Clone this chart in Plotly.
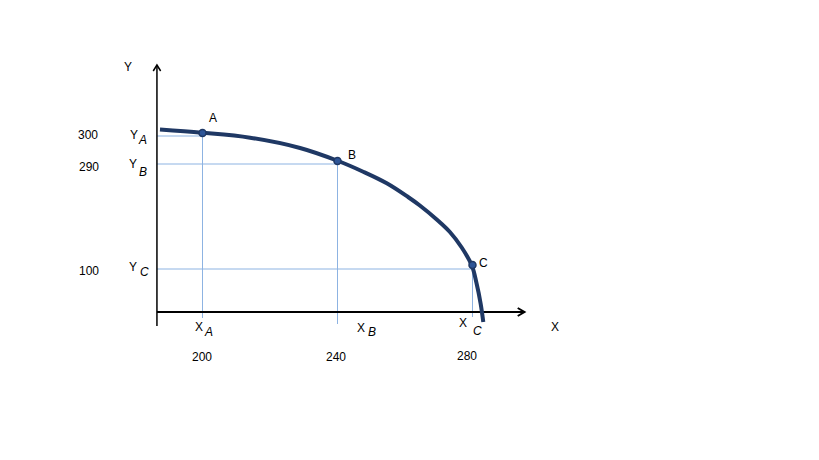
import plotly.graph_objects as go

# Production possibilities frontier (schematic; vertical axis not to scale)
point_names = ["A", "B", "C"]
x_values = [200, 240, 280]            # X quantities
y_values = [300, 290, 100]            # Y quantities
y_tick_labels = ["300", "290", "100"]
x_tick_labels = ["200", "240", "280"]
# drawn heights of the points and of their guide lines (schematic units)
point_heights = [179, 151, 47]
guide_heights = [176, 148, 43]
guide_bottoms = [-6, -12, -5]

# frontier curve (x in X units, height in schematic units)
curve_x = [187.4, 199.8, 214.1, 228.9, 240.2, 247.6, 254.6, 260.9, 264.4, 269.4,
           273.3, 276.8, 279.8, 281.2, 282.4, 283.2]
curve_h = [182.5, 179.3, 174.3, 164, 151, 140.3, 128.7, 115, 106.5, 92.5,
           80, 64.5, 46.5, 28.7, 8.7, -10]

axis_x0 = 186.5      # position of the vertical axis (X units)
x_axis_end = 295.4
y_axis_top = 247
y_axis_bottom = -14

NAVY = "#1F3864"
GUIDE = "#8DB3E2"
FONT = "Liberation Sans, Arial, sans-serif"

fig = go.Figure()

# guide lines
for xv, gh, pb, ph in zip(x_values, guide_heights, guide_bottoms, point_heights):
    fig.add_trace(go.Scatter(x=[axis_x0, xv], y=[gh, gh], mode="lines",
                             line=dict(color=GUIDE, width=1), hoverinfo="skip", showlegend=False))
    fig.add_trace(go.Scatter(x=[xv, xv], y=[ph, pb], mode="lines",
                             line=dict(color=GUIDE, width=1), hoverinfo="skip", showlegend=False))

# axes
fig.add_trace(go.Scatter(x=[axis_x0, x_axis_end], y=[0, 0], mode="lines",
                         line=dict(color="black", width=2.2), hoverinfo="skip", showlegend=False))
fig.add_trace(go.Scatter(x=[axis_x0, axis_x0], y=[y_axis_bottom, y_axis_top], mode="lines",
                         line=dict(color="black", width=1.5), hoverinfo="skip", showlegend=False))
# arrow chevrons
fig.add_trace(go.Scatter(x=[x_axis_end - 2.0, x_axis_end, x_axis_end - 2.0], y=[4, 0, -4], mode="lines",
                         line=dict(color="black", width=2), hoverinfo="skip", showlegend=False))
fig.add_trace(go.Scatter(x=[axis_x0 - 1.1, axis_x0, axis_x0 + 1.1], y=[y_axis_top - 6, y_axis_top, y_axis_top - 6],
                         mode="lines", line=dict(color="black", width=1.5), hoverinfo="skip", showlegend=False))

# frontier curve
fig.add_trace(go.Scatter(x=curve_x, y=curve_h, mode="lines",
                         line=dict(color=NAVY, width=4, shape="spline", smoothing=1.0),
                         hoverinfo="skip", showlegend=False))
# points
fig.add_trace(go.Scatter(x=x_values, y=point_heights, mode="markers",
                         marker=dict(size=7, color="#2E5597", line=dict(color=NAVY, width=1.5)),
                         showlegend=False))

ann = []
def txt(x, y, t, xshift=0, yshift=0, size=12):
    ann.append(dict(x=x, y=y, text=t, showarrow=False, xref="x", yref="y",
                    xshift=xshift, yshift=yshift, xanchor="center", yanchor="middle",
                    font=dict(family=FONT, size=size, color="black")))

# point labels
pt_dx = [10.8, 14.8, 10.8]
pt_dy = [14.7, 6, 1.7]
for xv, ph, n, dx, dy in zip(x_values, point_heights, point_names, pt_dx, pt_dy):
    txt(xv, ph, n, dx, dy)

# y value labels and Y with italic subscripts
yl_dx = [-69.2, -67.6, -67.6]
yl_dy = [1, -3.3, -2]
yY_dx = [-22.6, -23.6, -23.6]
yY_dy = [1, -0.3, 2.3]
ys_dx = [-14.2, -13.6, -12.6]
ys_dy = [-4, -8.3, -2.7]
for i, (gh, lab, n) in enumerate(zip(guide_heights, y_tick_labels, point_names)):
    txt(axis_x0, gh, lab, yl_dx[i], yl_dy[i])
    txt(axis_x0, gh, "Y", yY_dx[i], yY_dy[i])
    txt(axis_x0, gh, "<i>" + n + "</i>", ys_dx[i], ys_dy[i])

# x value labels and X with italic subscripts
xl_dx = [-0.8, -1.8, -5.5]
xl_dy = [-45.3, -45, -44]
xX_dx = [-3.2, 23.2, -9.2]
xX_dy = [-14.7, -16.3, -11.3]
xs_dx = [5.8, 34.2, 4.8]
xs_dy = [-20.3, -20.3, -18.7]
for i, (xv, lab, n) in enumerate(zip(x_values, x_tick_labels, point_names)):
    txt(xv, 0, lab, xl_dx[i], xl_dy[i])
    txt(xv, 0, "X", xX_dx[i], xX_dy[i])
    txt(xv, 0, "<i>" + n + "</i>", xs_dx[i], xs_dy[i])

# axis titles
txt(axis_x0, y_axis_top, "Y", -28.6, -1.7)
txt(x_axis_end, 0, "X", 30.5, -15.3)

# the page adds an 8px body margin; ranges are shifted to compensate
fig.update_layout(
    width=819, height=460,
    margin=dict(l=0, r=0, t=0, b=0),
    paper_bgcolor="white", plot_bgcolor="white",
    xaxis=dict(range=[142.37, 385.04], visible=False, fixedrange=True),
    yaxis=dict(range=[-156, 304], visible=False, fixedrange=True),
    annotations=ann,
    showlegend=False,
)

fig.write_html("out.html")
